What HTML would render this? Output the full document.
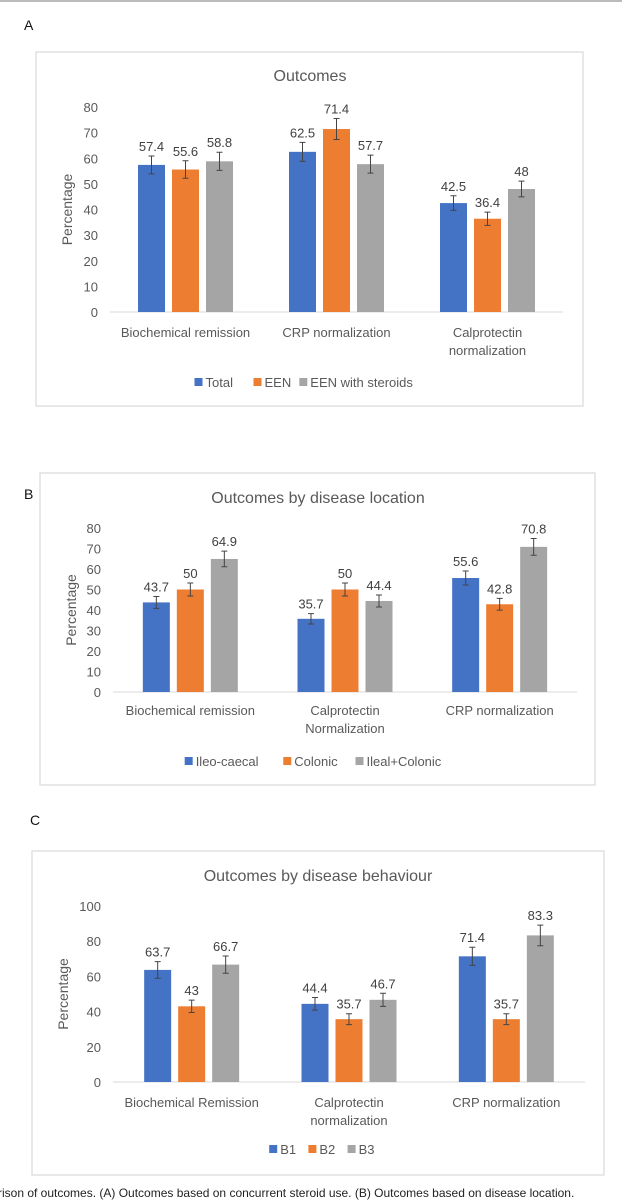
<!DOCTYPE html>
<html><head><meta charset="utf-8"><style>
body{margin:0;background:#fff;width:622px;height:1200px;overflow:hidden;font-family:"Liberation Sans",sans-serif;}
svg{position:absolute;left:0;top:0}
</style></head><body>
<svg id="s" width="622" height="1200">
<line x1="0" y1="1" x2="622" y2="1" stroke="#bbb" stroke-width="2"/>
<text x="24" y="30" font-size="14" fill="#111">A</text>
<text x="24" y="499" font-size="14" fill="#111">B</text>
<text x="30" y="825" font-size="14" fill="#111">C</text>
<text x="-2" y="1197" font-size="12" fill="#222">rison of outcomes. (A) Outcomes based on concurrent steroid use. (B) Outcomes based on disease location.</text>
</svg>
<script>
const catsA=["Biochemical remission","CRP normalization","Calprotectin|normalization"];
const seriesA=["Total","EEN","EEN with steroids"];
const valsA=[[57.4,62.5,42.5],[55.6,71.4,36.4],[58.8,57.7,48]];
const labelsA=[["57.4","62.5","42.5"],["55.6","71.4","36.4"],["58.8","57.7","48"]];
const ticksA=[0,10,20,30,40,50,60,70,80];

const catsB=["Biochemical remission","Calprotectin|Normalization","CRP normalization"];
const seriesB=["Ileo-caecal","Colonic","Ileal+Colonic"];
const valsB=[[43.7,35.7,55.6],[50,50,42.8],[64.9,44.4,70.8]];
const labelsB=[["43.7","35.7","55.6"],["50","50","42.8"],["64.9","44.4","70.8"]];
const ticksB=[0,10,20,30,40,50,60,70,80];

const catsC=["Biochemical Remission","Calprotectin|normalization","CRP normalization"];
const seriesC=["B1","B2","B3"];
const valsC=[[63.7,44.4,71.4],[43,35.7,35.7],[66.7,46.7,83.3]];
const labelsC=[["63.7","44.4","71.4"],["43","35.7","35.7"],["66.7","46.7","83.3"]];
const ticksC=[0,20,40,60,80,100];

const colors=["#4472c4","#ed7d31","#a5a5a5"];
const NS="http://www.w3.org/2000/svg";
const svg=document.getElementById('s');
function mk(tag,attrs,parent){const e=document.createElementNS(NS,tag);for(const k in attrs)e.setAttribute(k,attrs[k]);(parent||svg).appendChild(e);return e;}
function txt(x,y,s,size,anchor,fill,parent){const t=mk('text',{x:x,y:y,'font-size':size,'text-anchor':anchor,fill:fill},parent);t.textContent=s;return t;}

function chart(id,cfg,cats,series,vals,labels,ticks){
  const g=mk('g',{});
  
  
  const box=mk('rect',{x:cfg.bx,y:cfg.by,width:cfg.bw,height:cfg.bh,fill:'#fff',stroke:'#d9d9d9','stroke-width':1.2},g);
  
  
  const t=txt(cfg.tx,cfg.ty,cfg.title,16,'middle','#595959',g);
  
  
  const ymax=ticks[ticks.length-1];
  const Y=v=>cfg.y0-(v/ymax)*(cfg.y0-cfg.y1);
  const cw=(cfg.x1-cfg.x0)/cats.length;
  const X=i=>cfg.x0+cw*(i+0.5);
  ticks.forEach(v=>{const l=txt(cfg.x0-12,Y(v)+5,String(v),13,'end','#595959',g);
    
    });
  const yt=txt(0,0,'Percentage',14,'middle','#595959',g);
  yt.setAttribute('transform','translate('+cfg.ytx+','+((cfg.y0+cfg.y1)/2)+') rotate(-90)');
  
  
  const ax=mk('line',{x1:cfg.x0,y1:cfg.y0,x2:cfg.x1,y2:cfg.y0,stroke:'#d9d9d9','stroke-width':1},g);
  
  
  const bw=27,gap=7;
  series.forEach((s,si)=>{
    cats.forEach((c,ci)=>{
      const v=vals[si][ci];
      const cx=X(ci)+(si-1)*(bw+gap);
      const r=mk('rect',{x:cx-bw/2,y:Y(v),width:bw,height:cfg.y0-Y(v),fill:colors[si]},g);
      
      
      const e=cfg.err*v/60+1;
      const eb=mk('path',{d:'M'+cx+' '+Y(v+e)+'V'+Y(v-e)+'M'+(cx-3)+' '+Y(v+e)+'h6M'+(cx-3)+' '+Y(v-e)+'h6',stroke:'#444','stroke-width':1,fill:'none'},g);
      
      
      const dl=txt(cx,Y(v+e)-5,labels[si][ci],13,'middle','#404040',g);
      
      
    });
  });
  cats.forEach((c,ci)=>{
    c.split('|').forEach((ln,li)=>{const l=txt(X(ci),cfg.ly+li*18,ln,13,'middle','#595959',g);
      
      });
  });
  const widths=series.map(s=>s.length*6.6+14);
  const total=widths.reduce((a,b)=>a+b,0)+(series.length-1)*12;
  let lx=cfg.lcx-total/2;
  series.forEach((s,si)=>{
    const le=mk('g',{},g);
    
    
    mk('rect',{x:lx,y:cfg.lgy-9,width:8,height:8,fill:colors[si]},le);
    txt(lx+11,cfg.lgy,s,13,'start','#595959',le);
    lx+=widths[si]+12;
  });
}
chart('outcomes',{bx:36,by:52,bw:547,bh:354,title:'Outcomes',tx:310,ty:81,x0:110,x1:563,y0:312,y1:107,ytx:72,ly:337,lgy:387,lcx:310,err:2.6},catsA,seriesA,valsA,labelsA,ticksA);
chart('location',{bx:40,by:473,bw:555,bh:312,title:'Outcomes by disease location',tx:318,ty:503,x0:113,x1:577,y0:692,y1:528,ytx:76,ly:715,lgy:766,lcx:320,err:2.6},catsB,seriesB,valsB,labelsB,ticksB);
chart('behaviour',{bx:32,by:851,bw:572,bh:324,title:'Outcomes by disease behaviour',tx:318,ty:881,x0:113,x1:585,y0:1082,y1:906,ytx:68,ly:1107,lgy:1154,lcx:322,err:3.5},catsC,seriesC,valsC,labelsC,ticksC);
</script>
</body></html>
